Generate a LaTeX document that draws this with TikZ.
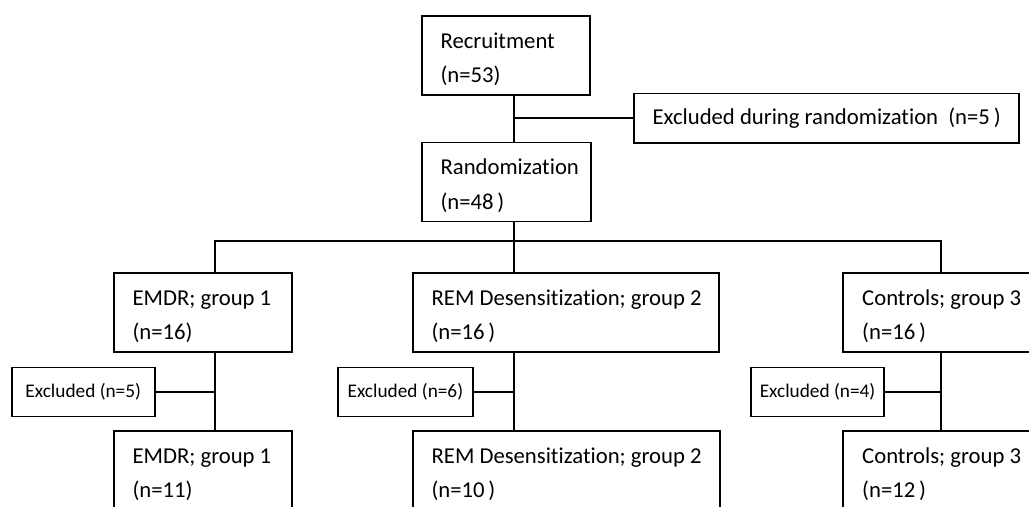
\documentclass[tikz,border=0pt]{standalone}
\usepackage{fontspec}
\setmainfont{Carlito}[RawFeature={-liga}]
\tikzset{
  stage/.style={draw, line width=0.9pt, anchor=north west, align=flush left,
    text width=#1, inner xsep=0pt, inner ysep=0pt, minimum height=39.5pt,
    font=\fontsize{11.35pt}{17.2pt}\selectfont,
    execute at begin node={\leftskip=9.5pt\rule{0pt}{14pt}},
    execute at end node={\rule[-4pt]{0pt}{4pt}}},
  drop/.style={draw, line width=0.9pt, anchor=north west, inner sep=0pt,
    minimum width=#1, minimum height=24.5pt,
    font=\fontsize{9.65pt}{11pt}\selectfont},
  link/.style={line width=0.9pt}
}
\begin{document}
\begin{tikzpicture}[x=0.5pt,y=-0.5pt]
\useasboundingbox (0,0) rectangle (1029,507);
\fill[white] (0,0) rectangle (1029,507);
\clip (0,0) rectangle (1029,507);

\node[stage=84.15pt] (rec) at (420.7,15) {Recruitment\\(n=53)};
\node[stage=84.8pt] (rnd) at (420.7,141.7) {Randomization\\(n=48\,)};
\node[drop=192.5pt, minimum height=24.8pt, font=\fontsize{11.35pt}{13pt}\selectfont]
  (excr) at (633.3,92.7) {Excluded during randomization\ \ (n=5\,)};

\node[stage=89pt] (grp1) at (112.7,272.3) {EMDR; group 1\\(n=16)};
\node[stage=153.3pt] (grp2) at (411.7,272.3) {REM Desensitization; group 2\\(n=16\,)};
\node[stage=100pt] (grp3) at (842.3,272.3) {Controls; group 3\\(n=16\,)};

\node[drop=71.65pt] (excl1) at (10.7,366.7) {Excluded (n=5)};
\node[drop=67.2pt] (excl2) at (337.3,366.7) {Excluded (n=6)};
\node[drop=66.65pt] (excl3) at (750,366.7) {Excluded (n=4)};

\node[stage=89pt] (kept1) at (112.7,430.3) {EMDR; group 1\\(n=11)};
\node[stage=153.8pt] (kept2) at (411.7,430.3) {REM Desensitization; group 2\\(n=10\,)};
\node[stage=100pt] (kept3) at (842.3,430.3) {Controls; group 3\\(n=12\,)};

\coordinate (lane1) at (215,0);
\coordinate (lane2) at (514,0);
\coordinate (lane3) at (941.3,0);
\coordinate (split) at (514,240.7);

\draw[link] (rec.south -| lane2) -- (rnd.north -| lane2);
\draw[link] (excr.west -| lane2) -- (excr.west);
\draw[link] (rnd.south -| lane2) -- (grp2.north -| lane2);
\draw[link] (grp1.north -| lane1) |- (split) -| (grp3.north -| lane3);

\foreach \g/\lane in {1/lane1,2/lane2,3/lane3}{
  \draw[link] (grp\g.south -| \lane) -- (kept\g.north -| \lane);
  \draw[link] (excl\g.east) -- (excl\g.east -| \lane);
}
\end{tikzpicture}
\end{document}
